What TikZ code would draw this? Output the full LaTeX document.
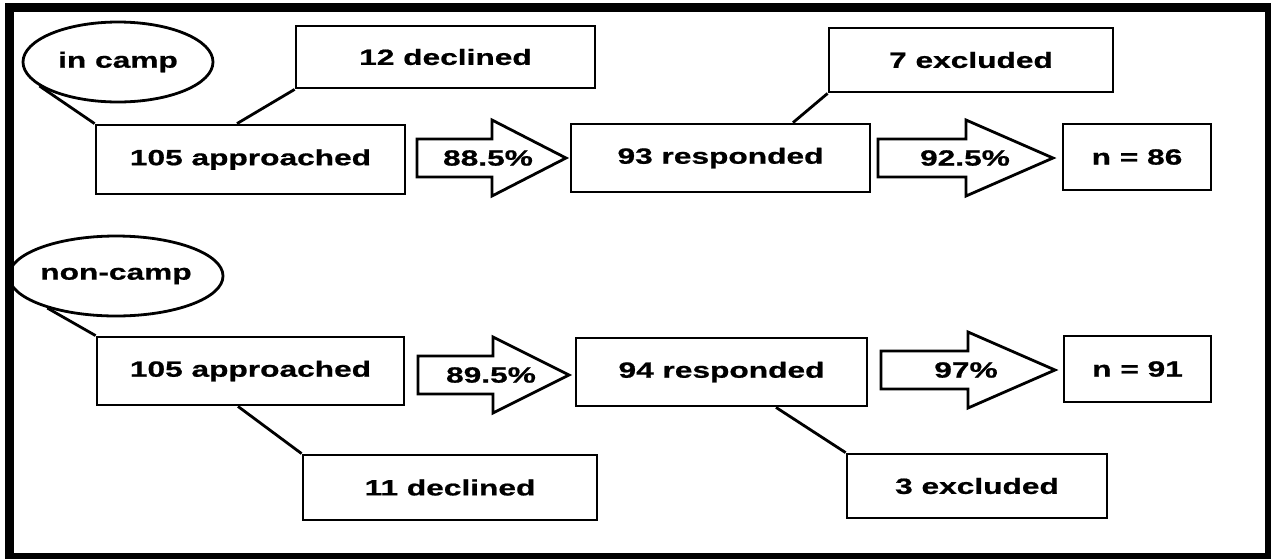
\documentclass[tikz,border=0pt]{standalone}
\usepackage{fontspec}
\setmainfont{Liberation Sans}[FakeStretch=1.44, BoldFeatures={FakeBold=0.8}]
\usetikzlibrary{shapes.geometric}

\newcommand{\boxfont}{\fontsize{22pt}{26pt}\selectfont\bfseries}
% block arrow: start point, shaft length, head length
\newcommand{\blockarrow}[3]{%
  \draw[bigarrow] #1 -- ++(0,-19) -- ++(#2,0) -- ++(0,-19) -- ++(#3,38)
    -- ++(-#3,38) -- ++(0,-19) -- ++(-#2,0) -- cycle;}

\begin{document}
\begin{tikzpicture}[x=1pt, y=-1pt,
  box/.style={draw, line width=2.8pt, inner sep=0pt, font=\boxfont},
  oval/.style={ellipse, draw, line width=2.8pt, inner sep=0pt, font=\boxfont},
  link/.style={line width=2.8pt},
  bigarrow/.style={draw, line width=2.8pt, line join=miter},
  pct/.style={font=\boxfont},
]
\useasboundingbox (0,0) rectangle (1271,558);
\fill[white] (0,0) rectangle (1271,558);
\draw[line width=9pt] (9.5,7.5) rectangle (1269.5,557.5);

% in camp
\node[oval, minimum width=190pt, minimum height=80pt] (ic) at (118,62) {in camp};
\node[box, minimum width=299pt, minimum height=62pt] (dec1) at (445.5,57) {12 declined};
\node[box, minimum width=309pt, minimum height=69pt] (app1) at (250.5,159.5) {105 approached};
\node[box, minimum width=299pt, minimum height=68pt] (resp1) at (720.5,158) {93 responded};
\node[box, minimum width=284pt, minimum height=64pt] (exc1) at (971,60) {7 excluded};
\node[box, minimum width=148pt, minimum height=66pt] (n1) at (1137,157) {n = 86};

\draw[link] (ic.197) -- (app1.north west);
\draw[link] (dec1.south west) -- ([xshift=-13.5pt]app1.north);
\draw[link] (exc1.south west) -- ([xshift=72.5pt]resp1.north);

\blockarrow{(417,158)}{75}{74}
\node[pct] (p1) at (488,158) {88.5\%};
\blockarrow{(878,158)}{88}{87}
\node[pct] (p2) at (965,158) {92.5\%};

% non-camp
\node[oval, minimum width=197pt, minimum height=80pt] (nc) at (116,276) {non-camp};
\node[box, minimum width=307pt, minimum height=68pt] (app2) at (250.5,371) {105 approached};
\node[box, minimum width=291pt, minimum height=68pt] (resp2) at (721.5,372) {94 responded};
\node[box, minimum width=147pt, minimum height=66pt] (n2) at (1137.5,369) {n = 91};
\node[box, minimum width=294pt, minimum height=65pt] (dec2) at (450,487.5) {11 declined};
\node[box, minimum width=260pt, minimum height=64pt] (exc2) at (977,486) {3 excluded};

\draw[link] (nc.205) -- (app2.north west);
\draw[link] ([xshift=-12.5pt]app2.south) -- (dec2.north west);
\draw[link] ([xshift=54.5pt]resp2.south) -- (exc2.north west);

\blockarrow{(418,375)}{75}{76}
\node[pct] (p3) at (491,375) {89.5\%};
\blockarrow{(881,370)}{87}{87}
\node[pct] (p4) at (966,370) {97\%};
\end{tikzpicture}
\end{document}
